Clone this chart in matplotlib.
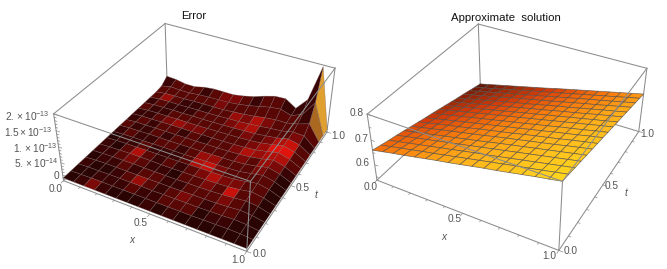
import numpy as np
import matplotlib
matplotlib.use('Agg')
import matplotlib.pyplot as plt
from matplotlib.colors import LinearSegmentedColormap

plt.rcParams['font.family'] = ['Liberation Sans', 'DejaVu Sans']
plt.rcParams['mathtext.fontset'] = 'custom'
plt.rcParams['mathtext.rm'] = 'Liberation Sans'
plt.rcParams['mathtext.it'] = 'Liberation Sans:italic'

W, H = 667, 269

# grid of the two surfaces (16 mesh cells each way)
x_grid = [i / 16 for i in range(17)]
t_grid = [i / 16 for i in range(17)]

# error surface, in units of 1e-14, rows go with t, columns with x
error_z = [
    [0, 0, 0, 0, 0, 0, 0, 0, 0, 0, 0, 0, 0, 0, 0, 0, 0],
    [0, .1, .2, .2, .2, .2, .2, .2, .2, .2, .2, .2, .3, .3, .4, .3, 0],
    [0, .2, .2, .3, .3, .3, .3, .2, .3, .3, .3, .3, .4, .5, .7, .5, 0],
    [0, .2, .3, .3, .3, .3, .3, .3, .3, .3, .4, .4, .5, .7, 1.0, .7, 0],
    [0, .2, .3, .3, .4, .3, .3, .3, .3, .4, .4, .5, .7, 1, 1.4, 1, 0],
    [0, .2, .3, .4, .4, .4, .3, .3, .4, .4, .5, .6, .8, 1.2, 1.8, 1.2, 0],
    [0, .2, .3, .3, .4, .4, .4, .4, .5, .6, .6, .7, .9, 1.4, 2.1, 1.4, 0],
    [0, .2, .3, .3, .4, .4, .4, .4, .5, .6, .7, .8, 1, 1.6, 2.3, 1.5, 0],
    [0, .3, .3, .4, .4, .4, .4, .5, .5, .6, .7, .8, 1.1, 1.7, 2.5, 1.6, 0],
    [0, .3, .3, .4, .4, .4, .5, .5, .6, .6, .7, .9, 1.2, 1.8, 2.6, 1.7, 0],
    [0, .3, .3, .4, .5, .5, .5, .6, .6, .7, .8, 1, 1.3, 2, 2.8, 1.8, 0],
    [0, .3, .4, .4, .5, .5, .5, .6, .7, .8, .9, 1.1, 1.5, 2.1, 2.9, 2, 0],
    [0, .3, .4, .5, .5, .6, .6, .7, .8, .9, 1.1, 1.3, 1.7, 2.2, 3, 2.2, 0],
    [0, .4, .5, .5, .6, .7, .7, .8, 1, 1.1, 1.4, 1.7, 2.1, 2.4, 3.2, 3, 0],
    [0, .5, .6, .6, .8, .9, .9, 1, 1.3, 1.6, 2, 2.6, 3, 3, 3.8, 5, 0],
    [.3, 1, .8, .8, 1.2, 1.4, 1.5, 1.6, 2, 2.6, 3.4, 4.2, 4.6, 3.5, 5, 10, 0],
    [2, 1.8, 1.2, 1.2, 2, 2.4, 2.4, 2.4, 3, 3.8, 5, 6, 6.2, 4, 8, 19.5, 0],
]

# brightness of each mesh cell of the error surface, 0 dark to 10 gold
error_shade = [
    [1, 2, 4, 2, 1, 1, 1, 2, 1, 2, 1, 1, 1, 1, 1, 1],
    [1, 1, 2, 2, 2, 3, 2, 2, 3, 3, 3, 1, 2, 2, 1, 1],
    [2, 1, 1, 2, 3, 5, 3, 2, 3, 4, 3, 2, 3, 3, 2, 1],
    [1, 2, 2, 3, 2, 3, 3, 2, 2, 3, 3, 3, 4, 3, 2, 1],
    [2, 2, 3, 4, 3, 2, 2, 1, 3, 3, 4, 3, 7, 3, 3, 1],
    [2, 1, 3, 6, 3, 2, 3, 2, 3, 4, 6, 4, 4, 3, 3, 1],
    [1, 2, 2, 3, 2, 2, 2, 3, 6, 7, 4, 3, 3, 3, 3, 1],
    [2, 3, 2, 2, 3, 3, 2, 3, 5, 5, 3, 3, 3, 4, 3, 1],
    [3, 2, 2, 3, 2, 3, 3, 3, 3, 3, 3, 4, 3, 5, 4, 2],
    [2, 3, 2, 3, 3, 2, 3, 2, 3, 3, 4, 6, 5, 6, 6, 3],
    [2, 2, 3, 4, 5, 4, 4, 3, 3, 3, 3, 4, 5, 8, 8, 3],
    [3, 2, 2, 3, 3, 3, 3, 3, 3, 3, 4, 3, 4, 6, 7, 3],
    [2, 3, 2, 2, 2, 3, 3, 3, 4, 5, 6, 3, 3, 3, 4, 2],
    [3, 5, 3, 2, 2, 2, 3, 3, 5, 4, 6, 4, 3, 3, 3, 3],
    [3, 3, 3, 3, 3, 3, 4, 3, 3, 3, 3, 3, 3, 3, 2, 9.5],
    [2, 3, 3, 3, 2, 3, 4, 4, 3, 2, 3, 3, 2, 2, 2, 10],
]

# approximate solution, rows go with t, columns with x
approx_z = [
    [.660, .669, .678, .686, .695, .704, .713, .721, .730, .739, .748, .756, .765, .774, .783, .791, .800],
    [.652, .661, .670, .679, .688, .696, .705, .714, .723, .732, .741, .750, .759, .767, .776, .785, .794],
    [.644, .653, .662, .671, .680, .689, .698, .707, .716, .724, .733, .742, .751, .760, .769, .778, .787],
    [.637, .646, .655, .664, .673, .682, .691, .700, .709, .718, .727, .736, .745, .754, .763, .772, .781],
    [.629, .638, .647, .656, .665, .674, .683, .692, .701, .711, .720, .729, .738, .747, .756, .765, .774],
    [.621, .630, .639, .649, .658, .667, .676, .685, .695, .704, .713, .722, .731, .740, .750, .759, .768],
    [.613, .622, .632, .641, .650, .659, .669, .678, .687, .696, .706, .715, .724, .733, .743, .752, .761],
    [.605, .614, .624, .633, .643, .652, .661, .671, .680, .689, .699, .708, .718, .727, .736, .746, .755],
    [.598, .607, .617, .626, .636, .645, .654, .664, .673, .682, .692, .701, .711, .720, .729, .739, .748],
    [.590, .600, .609, .619, .628, .638, .647, .657, .666, .676, .685, .695, .704, .714, .723, .733, .742],
    [.582, .592, .601, .611, .620, .630, .639, .649, .659, .668, .678, .687, .697, .706, .716, .725, .735],
    [.574, .584, .593, .603, .613, .622, .632, .642, .652, .661, .671, .681, .690, .700, .710, .719, .729],
    [.566, .576, .586, .595, .605, .615, .625, .634, .644, .654, .664, .673, .683, .693, .703, .712, .722],
    [.559, .569, .579, .588, .598, .608, .618, .628, .637, .647, .657, .667, .677, .686, .696, .706, .716],
    [.551, .561, .571, .581, .591, .600, .610, .620, .630, .640, .650, .660, .670, .679, .689, .699, .709],
    [.543, .553, .563, .573, .583, .593, .603, .613, .623, .633, .643, .653, .663, .673, .683, .693, .703],
    [.535, .545, .555, .565, .575, .585, .595, .605, .616, .626, .636, .646, .656, .666, .676, .686, .696],
]

error_cmap = LinearSegmentedColormap.from_list('err', [
    (0, '#1a0202'), (.2, '#3a0404'), (.5, '#9a0c08'), (.8, '#e0140c'), (.9, '#ec2418'), (.95, '#a86420'), (1, '#e0a030')])
approx_cmap = LinearSegmentedColormap.from_list('app', [
    (0, '#5a1406'), (.12, '#8f2206'), (.3, '#d63c06'), (.5, '#f87a0c'), (.7, '#ffb01a'), (1, '#ffd820')])

BOX = '#8c8c8c'
TICK = '#555555'


def place_axes(fig, s, tx, ty, aspect):
    # s is pixels per projected unit, tx, ty where the view centre lands
    ax = fig.add_axes([(tx - .095 * s) / W, (ty - .095 * s) / H, .185 * s / W, .185 * s / H], projection='3d')
    ax.set_proj_type('persp', focal_length=.462)
    ax.view_init(elev=35.9, azim=-61.5)
    ax.set_box_aspect(aspect)
    ax.set_axis_off()
    ax.patch.set_visible(False)
    ax.computed_zorder = False
    return ax


def draw_box(ax, z0, z1):
    back = [((0, 1), (1, 1), (z0, z0)), ((0, 0), (0, 1), (z0, z0)), ((0, 0), (1, 1), (z0, z1)),
            ((0, 0), (0, 0), (z0, z1)), ((1, 1), (1, 1), (z0, z1)), ((0, 1), (1, 1), (z1, z1)),
            ((0, 0), (0, 1), (z1, z1))]
    front = [((0, 1), (0, 0), (z0, z0)), ((1, 1), (0, 1), (z0, z0)), ((1, 1), (0, 0), (z0, z1)),
             ((0, 1), (0, 0), (z1, z1)), ((1, 1), (0, 1), (z1, z1))]
    for xs, ts, zs in back:
        ax.plot(xs, ts, zs, color=BOX, lw=.75, zorder=1, clip_on=False)
    for xs, ts, zs in front:
        ax.plot(xs, ts, zs, color=BOX, lw=.75, zorder=5, clip_on=False)


def draw_ticks(ax, z0, z_major, z_minor):
    for v in np.arange(0, 1.01, .1):
        major = abs(v * 10 % 5) < .01 or abs(v * 10 % 5 - 5) < .01
        d = .02 if major else .012
        ax.plot((v, v), (0, -d), (z0, z0), color=BOX, lw=.5, zorder=6, clip_on=False)
        ax.plot((1, 1 + d), (v, v), (z0, z0), color=BOX, lw=.5, zorder=6, clip_on=False)
    for v in z_major:
        ax.plot((0, .02), (0, 0), (v, v), color=BOX, lw=.5, zorder=6, clip_on=False)
    for v in z_minor:
        ax.plot((0, .012), (0, 0), (v, v), color=BOX, lw=.5, zorder=6, clip_on=False)


def draw_surface(ax, z, colors, mesh, lw):
    X, T = np.meshgrid(x_grid, t_grid)
    surf = ax.plot_surface(X, T, z, facecolors=colors, rstride=1, cstride=1, shade=False, zorder=3)
    surf.set_edgecolor(mesh)
    surf.set_linewidth(lw)
    surf.set_clip_on(False)


def label(fig, px, py, s, size=7.3, color=TICK, ha='center', **kw):
    fig.text(px / W, 1 - py / H, s, fontsize=size, color=color, ha=ha, va='center', **kw)


fig = plt.figure(figsize=(W / 100, H / 100), dpi=100)

# left panel
ax1 = place_axes(fig, 1545, 201.0, 145.3, (1, 1, .403))
z_err = np.array(error_z) * 1e-14
z0_err, z1_err = -.9e-14, 20e-14
ax1.set_xlim(0, 1)
ax1.set_ylim(0, 1)
ax1.set_zlim(z0_err, z1_err)
draw_box(ax1, z0_err, z1_err)
draw_ticks(ax1, z0_err, [0, 5e-14, 10e-14, 15e-14, 20e-14], [v * 1e-14 for v in range(1, 20) if v % 5])
draw_surface(ax1, z_err, error_cmap(np.array(error_shade) / 10), (.45, .36, .36, .55), .4)

label(fig, 194, 16, 'Error', size=8.2, color='#111111')
label(fig, 50, 116, r'$2.\times10^{-13}$', ha='right')
label(fig, 52, 132, r'$1.5\times10^{-13}$', ha='right')
label(fig, 58, 148, r'$1.\times10^{-13}$', ha='right')
label(fig, 59, 163, r'$5.\times10^{-14}$', ha='right')
label(fig, 59, 176, '0', ha='right')
label(fig, 56, 189, '0.0')
label(fig, 141, 223, '0.5')
label(fig, 238, 260, '1.0')
label(fig, 260, 254, '0.0')
label(fig, 303, 188, '0.5')
label(fig, 338, 136, '1.0')
label(fig, 132, 240, 'x', style='italic')
label(fig, 316, 195, 't', style='italic')

# right panel
ax2 = place_axes(fig, 1536, 513.7, 145.5, (1, 1.005, .401))
z0_app, z1_app = .535, .8
ax2.set_xlim(0, 1)
ax2.set_ylim(0, 1)
ax2.set_zlim(z0_app, z1_app)
draw_box(ax2, z0_app, z1_app)
draw_ticks(ax2, z0_app, [.6, .7, .8], [.55, .65, .75])
z_app = np.array(approx_z)
draw_surface(ax2, z_app, approx_cmap((z_app - z0_app) / (z1_app - z0_app)), (.33, .30, .28, .8), .5)

label(fig, 506, 18, 'Approximate  solution', size=8.2, color='#111111')
label(fig, 357, 113, '0.8')
label(fig, 362, 139, '0.7')
label(fig, 363, 163, '0.6')
label(fig, 371, 187, '0.0')
label(fig, 455, 219, '0.5')
label(fig, 549, 256, '1.0')
label(fig, 571, 251, '0.0')
label(fig, 612, 186, '0.5')
label(fig, 647, 134, '1.0')
label(fig, 444, 237, 'x', style='italic')
label(fig, 626, 193, 't', style='italic')

fig.savefig('out.png', dpi=100)
